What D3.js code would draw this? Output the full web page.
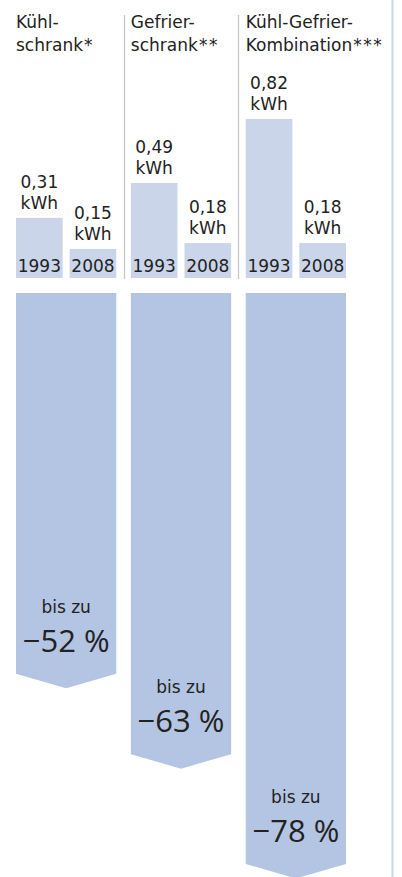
<!DOCTYPE html>
<html lang="de">
<head>
<meta charset="utf-8">
<title>Stromverbrauch Kühl- und Gefriergeräte 1993 / 2008</title>
<script src="https://cdn.jsdelivr.net/npm/d3@7"></script>
<style>
  html, body { margin: 0; padding: 0; background: #fff; }
  svg { display: block; }
  text { font-family: "DejaVu Sans", sans-serif; fill: #222; }
  .big { font-family: "Open Sans", "DejaVu Sans", sans-serif; }
</style>
</head>
<body>
<script>
// Gerätekategorien (zweizeilige Überschriften)
const categories = ["Kühlschrank", "Gefrierschrank", "Kombination"];
const headerLines = [
  ["Kühl-", "schrank*"],
  ["Gefrier-", "schrank**"],
  ["Kühl-Gefrier-", "Kombination***"]
];
const years = ["1993", "2008"];
// Verbrauch in kWh je Jahr und Gerät
const consumption1993 = [0.31, 0.49, 0.82];
const consumption2008 = [0.15, 0.18, 0.18];
const valueLabels1993 = ["0,31", "0,49", "0,82"];
const valueLabels2008 = ["0,15", "0,18", "0,18"];
// Einsparung in Prozent
const savings = [52, 63, 78];
const savingLabels = ["−52 %", "−63 %", "−78 %"];

const W = 402, H = 877;
const svg = d3.select("body").append("svg").attr("width", W).attr("height", H);

const colBar = "#cad5e9";
const colArrow = "#b4c5e3";
const fs = 17;

// Gruppen und Jahre
const x0 = d3.scaleBand().domain(categories).range([16, 346]).paddingInner(0.127);
const x1 = d3.scaleBand().domain(years).range([0, x0.bandwidth()]).paddingInner(0.13);

// kWh-Skala der oberen Balken
const baseY = 278;
const y = d3.scaleLinear().domain([0, 1]).range([baseY, baseY - 194]);

// Prozent-Skala der Pfeile
const arrowTop = 293;
const yp = d3.scaleLinear().domain([0, 100]).range([arrowTop, arrowTop + 732]);
const tipDepth = 14.5;

// rechte Randlinie
svg.append("rect").attr("x", 391.5).attr("y", 0).attr("width", 2).attr("height", H)
  .attr("fill", "#c9d5ea");

// Trennlinien zwischen den Gruppen
const step = x0.step();
const gap = step - x0.bandwidth();
categories.slice(1).forEach(c => {
  const xs = Math.round(x0(c) - gap / 2) + 0.5;
  svg.append("line").attr("x1", xs).attr("x2", xs).attr("y1", 15).attr("y2", baseY + 1)
    .attr("stroke", "#c4c4c4").attr("stroke-width", 1.2);
});

const rows = categories.map((c, i) => ({
  cat: c,
  header: headerLines[i],
  bars: [
    { year: years[0], v: consumption1993[i], label: valueLabels1993[i] },
    { year: years[1], v: consumption2008[i], label: valueLabels2008[i] }
  ],
  saving: savings[i],
  savingLabel: savingLabels[i]
}));

const g = svg.selectAll("g.group").data(rows).join("g")
  .attr("class", "group")
  .attr("transform", d => `translate(${x0(d.cat)},0)`);

// Überschriften; Fußnoten-Sternchen leicht gesperrt
g.each(function (d) {
  const t = d3.select(this).append("text").attr("font-size", fs);
  d.header.forEach((line, i) => {
    const m = line.match(/^(.*?)(\**)$/);
    t.append("tspan").attr("x", 0).attr("y", 28 + i * 23).text(m[1]);
    if (m[2]) t.append("tspan").attr("dx", 1).attr("letter-spacing", 1.5).text(m[2]);
  });
});

// Verbrauchsbalken
const b = g.selectAll("g.bar").data(d => d.bars).join("g").attr("class", "bar");
b.append("rect")
  .attr("x", d => x1(d.year))
  .attr("y", d => y(d.v))
  .attr("width", x1.bandwidth())
  .attr("height", d => y(0) - y(d.v))
  .attr("fill", colBar);
b.append("text")
  .attr("x", d => x1(d.year) + x1.bandwidth() / 2)
  .attr("y", baseY - 6)
  .attr("text-anchor", "middle")
  .attr("font-size", fs)
  .text(d => d.year);
b.append("text")
  .attr("x", d => x1(d.year) + x1.bandwidth() / 2)
  .attr("y", d => y(d.v) - 30)
  .attr("text-anchor", "middle")
  .attr("font-size", fs)
  .text(d => d.label);
b.append("text")
  .attr("x", d => x1(d.year) + x1.bandwidth() / 2)
  .attr("y", d => y(d.v) - 9)
  .attr("text-anchor", "middle")
  .attr("font-size", fs)
  .text("kWh");

// Einsparungspfeile
const bw = x0.bandwidth();
g.append("path")
  .attr("d", d => {
    const s = yp(d.saving);
    return `M0,${arrowTop} H${bw} V${s} L${bw / 2},${s + tipDepth} L0,${s} Z`;
  })
  .attr("fill", colArrow);
g.append("text")
  .attr("x", bw / 2)
  .attr("y", d => yp(d.saving) - 61)
  .attr("text-anchor", "middle")
  .attr("font-size", fs)
  .text("bis zu");
g.append("text")
  .attr("class", "big")
  .attr("x", bw / 2)
  .attr("y", d => yp(d.saving) - 22)
  .attr("text-anchor", "middle")
  .attr("font-size", 31)
  .text(d => d.savingLabel);
</script>
</body>
</html>
